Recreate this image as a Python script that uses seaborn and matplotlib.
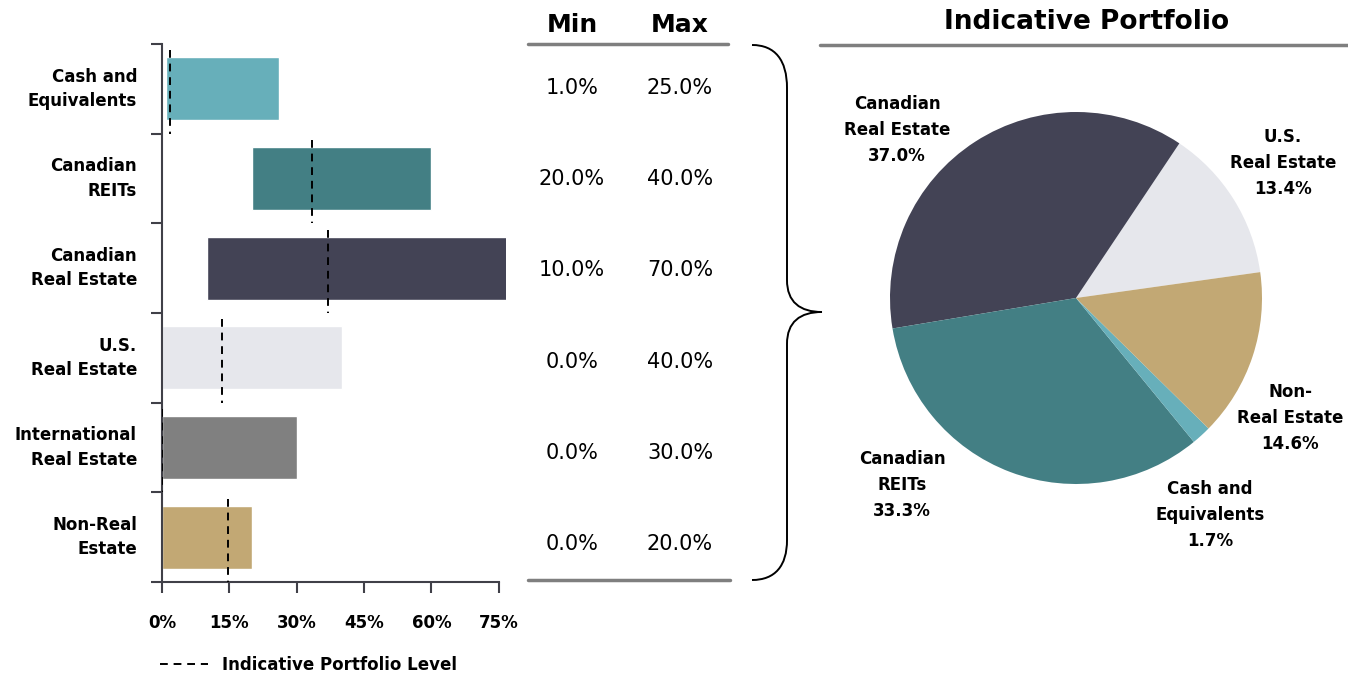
import matplotlib
matplotlib.use("Agg")
import matplotlib.pyplot as plt
import seaborn as sns
import pandas as pd
import numpy as np
from matplotlib.path import Path
from matplotlib.patches import PathPatch
from matplotlib.lines import Line2D

# ---------------- data ----------------
categories = ["Cash and\nEquivalents", "Canadian\nREITs", "Canadian\nReal Estate",
              "U.S.\nReal Estate", "International\nReal Estate", "Non-Real\nEstate"]
min_pct = [1.0, 20.0, 10.0, 0.0, 0.0, 0.0]
max_pct = [25.0, 40.0, 70.0, 40.0, 30.0, 20.0]
indicative_level = [1.7, 33.3, 37.0, 13.4, 0.0, 14.6]
bar_colors = ["#67AFBA", "#437F84", "#434355", "#E6E7EC", "#808080", "#C2A874"]
x_ticks = [0, 15, 30, 45, 60, 75]

pie_labels = ["U.S.\nReal Estate", "Canadian\nReal Estate", "Canadian\nREITs",
              "Cash and\nEquivalents", "Non-\nReal Estate"]
pie_values = [13.4, 37.0, 33.3, 1.7, 14.6]
pie_colors = ["#E6E7EC", "#434355", "#437F84", "#67AFBA", "#C2A874"]

# ---------------- layout helpers ----------------
W, H = 1348, 676
def fx(px):
    return px / W
def fy(py):
    return 1 - py / H

sns.set_theme(style="white")
plt.rcParams['font.family'] = ['DejaVu Sans']
plt.rcParams['text.color'] = 'black'

fig = plt.figure(figsize=(W / 100, H / 100), dpi=100)
spine_col = "#404048"

# ---------------- range bar chart ----------------
ax = fig.add_axes([fx(162), fy(582), (505.5 - 162) / W, (582 - 44) / H])
df = pd.DataFrame({"cat": categories, "max": max_pct, "min": min_pct})
sns.barplot(data=df, y="cat", x="max", hue="cat", palette=bar_colors, orient="h",
            width=0.7, ax=ax, legend=False, saturation=1, errorbar=None)
for cont, lo in zip(ax.containers, min_pct):
    for p in cont:
        p.set_x(lo)

ypos = np.arange(len(categories))
ax.vlines(indicative_level, ypos - 0.43, ypos + 0.5, colors="black",
          linestyles=(0, (4, 3)), linewidth=1.4, zorder=5)

ax.set_xlim(0, 76.5)
ax.set_ylim(len(categories) - 0.5, -0.5)
for s in ["top", "right"]:
    ax.spines[s].set_visible(False)
for s in ["left", "bottom"]:
    ax.spines[s].set_color(spine_col)
    ax.spines[s].set_linewidth(1.5)
ax.spines["bottom"].set_bounds(0, 75)

ax.set_yticks(np.arange(-0.5, len(categories), 1))
ax.set_yticklabels([])
ax.set_yticks(ypos, minor=True)
ax.set_yticklabels(categories, minor=True, fontweight="bold", fontsize=12, color="black")
for t in ax.get_yticklabels(minor=True):
    t.set_linespacing(1.45)
    t.set_verticalalignment("center")
ax.tick_params(axis="y", which="major", left=True, length=8, width=1.5, color=spine_col, direction="out")
ax.tick_params(axis="y", which="minor", left=True, length=0, pad=18)

ax.set_xticks(x_ticks)
ax.set_xticklabels([f"{v}%" for v in x_ticks], fontweight="bold", fontsize=12, color="black")
ax.tick_params(axis="x", which="major", bottom=True, length=8, width=1.5, color=spine_col,
               direction="out", pad=15)
ax.set_xlabel("")
ax.set_ylabel("")

ax.legend(handles=[Line2D([], [], color="black", ls=(0, (4, 3)), lw=1.4)],
          labels=["Indicative Portfolio Level"], loc="center left",
          bbox_to_anchor=(fx(160), fy(665)), bbox_transform=fig.transFigure,
          frameon=False, handlelength=2.9, handletextpad=0.85, borderpad=0,
          borderaxespad=0, prop=dict(weight="bold", size=12))

# ---------------- min / max table ----------------
fig.text(fx(572), fy(25), "Min", ha="center", va="center", fontsize=18, fontweight="bold")
fig.text(fx(680), fy(25), "Max", ha="center", va="center", fontsize=18, fontweight="bold")
fig.add_artist(Line2D([fx(528), fx(728)], [fy(44), fy(44)], color="#7f7f7f", lw=2.5))
fig.add_artist(Line2D([fx(528), fx(730)], [fy(580), fy(580)], color="#7f7f7f", lw=2.5))
row_top, row_step = 88, 91.2
for i, (lo, hi) in enumerate(zip(min_pct, max_pct)):
    yy = row_top + i * row_step
    fig.text(fx(572), fy(yy), f"{lo:.1f}%", ha="center", va="center", fontsize=15)
    fig.text(fx(680), fy(yy), f"{hi:.1f}%", ha="center", va="center", fontsize=15)

# ---------------- brace ----------------
pts = [(752, 45), (775, 45), (787, 60), (787, 88),
       (787, 280),
       (787, 302), (800, 312), (822, 312),
       (800, 312), (787, 322), (787, 344),
       (787, 540),
       (787, 566), (775, 580), (752, 580)]
codes = [Path.MOVETO, Path.CURVE4, Path.CURVE4, Path.CURVE4,
         Path.LINETO,
         Path.CURVE4, Path.CURVE4, Path.CURVE4,
         Path.CURVE4, Path.CURVE4, Path.CURVE4,
         Path.LINETO,
         Path.CURVE4, Path.CURVE4, Path.CURVE4]
brace = Path([(fx(a), fy(b)) for a, b in pts], codes)
fig.add_artist(PathPatch(brace, facecolor="none", edgecolor="black", lw=1.4,
                         transform=fig.transFigure))

# ---------------- pie ----------------
fig.text(fx(1087), fy(22), "Indicative Portfolio", ha="center", va="center",
         fontsize=19, fontweight="bold")
fig.add_artist(Line2D([fx(820), fx(1348)], [fy(45), fy(45)], color="#7f7f7f", lw=2.5))

cx, cy, r = 1076, 298, 186
axp = fig.add_axes([fx(cx - r), fy(cy + r), 2 * r / W, 2 * r / H])
axp.pie(pie_values, colors=pie_colors, startangle=8, counterclock=True,
        wedgeprops=dict(linewidth=0))
axp.set_xlim(-1, 1)
axp.set_ylim(-1, 1)
axp.set_axis_off()

label_pos = [(1.113, 0.726), (-0.962, 0.903), (-0.935, -1.005), (0.720, -1.167), (1.151, -0.645)]
for (lx, ly), lab, v in zip(label_pos, pie_labels, pie_values):
    axp.text(lx, ly, f"{lab}\n{v:.1f}%", ha="center", va="center", fontsize=12,
             fontweight="bold", linespacing=1.55)

fig.savefig("out.png", dpi=100)
